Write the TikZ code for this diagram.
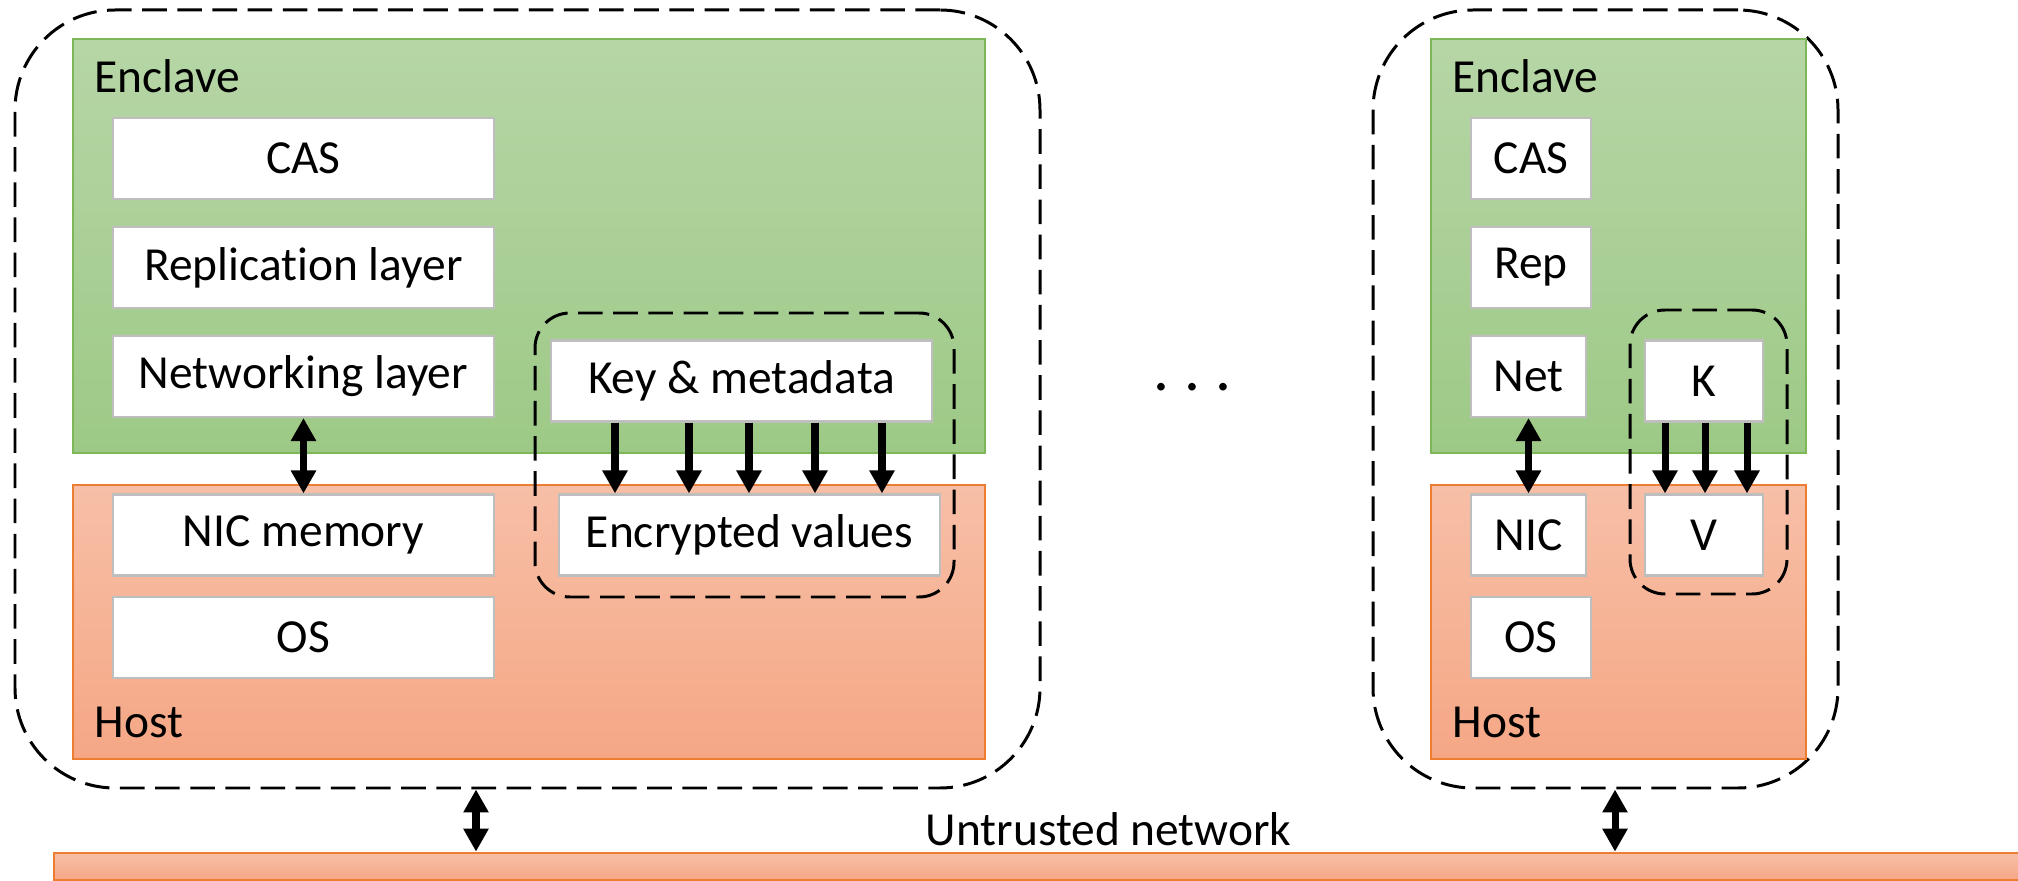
\documentclass[tikz,border=0pt]{standalone}
\usepackage{fontspec}
\setmainfont{Carlito}[Ligatures=NoCommon]
\usetikzlibrary{arrows.meta}

\definecolor{enctop}{RGB}{182,214,166}
\definecolor{encbot}{RGB}{157,201,134}
\definecolor{encline}{RGB}{125,183,88}
\definecolor{hosttop}{RGB}{247,191,167}
\definecolor{hostbot}{RGB}{245,167,133}
\definecolor{hostline}{RGB}{237,125,49}
\definecolor{boxline}{RGB}{190,190,190}

\begin{document}
\begin{tikzpicture}[every node/.style={font=\fontsize{13.5}{16}\selectfont, inner sep=0pt},
	>={Triangle[length=0.23cm, width=0.24cm]},
	block/.style={draw=boxline, fill=white, line width=0.6pt, minimum height=0.81cm},
	enclave/.style={draw=encline, top color=enctop, bottom color=encbot, line width=0.8pt, minimum height=4.14cm},
	host/.style={draw=hostline, top color=hosttop, bottom color=hostbot, line width=0.8pt, minimum height=2.74cm},
	machine/.style={draw, line width=0.85pt, dash pattern=on 7pt off 3pt, rounded corners=1cm, minimum height=7.78cm},
	kvgroup/.style={draw, line width=0.85pt, dash pattern=on 7pt off 3pt, rounded corners=0.35cm, minimum height=2.84cm},
	conn/.style={line width=2pt}]
	\useasboundingbox (0,0) rectangle (20.18,8.80);

	% left machine
	\node[machine, minimum width=10.25cm] (outerL) at (5.275,4.81) {};
	\node[enclave, minimum width=9.12cm] (enclL) at (5.29,6.34) {};
	\node[host, minimum width=9.12cm] (hostL) at (5.29,2.58) {};
	\node[anchor=base west] (enclLbl) at (0.94,7.87) {Enclave};
	\node[anchor=base west] (hostLbl) at (0.94,1.43) {Host};
	\node[kvgroup, minimum width=4.19cm] (grpL) at (7.445,4.25) {};
	\node[block, minimum width=3.81cm] (cas) at (3.035,7.215) {CAS};
	\node[block, minimum width=3.81cm] (rep) at (3.035,6.125) {Replication layer};
	\node[block, minimum width=3.81cm] (net) at (3.035,5.035) {Networking layer};
	\node[block, minimum width=3.81cm] (nic) at (3.035,3.45) {NIC memory};
	\node[block, minimum width=3.81cm] (os) at (3.035,2.425) {OS};
	\node[block, minimum width=3.81cm] (key) at (7.415,4.99) {Key \& metadata};
	\node[block, minimum width=3.81cm] (enc) at (7.495,3.45) {Encrypted values};
	\draw[<->, conn] (net) -- (nic);
	\foreach \x in {6.15,6.89,7.49,8.15,8.82}
		\draw[->, conn] (\x,0 |- key.south) -- (\x,0 |- enc.north);

	\node[font=\fontsize{18}{18}\selectfont, anchor=base] (dots) at (11.925,4.90) {.\hspace{4.3pt}.\hspace{4.3pt}.};

	% right machine
	\node[machine, minimum width=4.65cm] (outerR) at (16.055,4.81) {};
	\node[enclave, minimum width=3.75cm] (enclR) at (16.185,6.34) {};
	\node[host, minimum width=3.75cm] (hostR) at (16.185,2.58) {};
	\node[anchor=base west] (enclRLbl) at (14.52,7.87) {Enclave};
	\node[anchor=base west] (hostRLbl) at (14.52,1.43) {Host};
	\node[kvgroup, minimum width=1.57cm] (grpR) at (17.085,4.28) {};
	\node[block, minimum width=1.20cm] (casR) at (15.31,7.215) {CAS};
	\node[block, minimum width=1.20cm] (repR) at (15.31,6.125) {Rep};
	\node[block, minimum width=1.15cm] (netR) at (15.285,5.035) {Net};
	\node[block, minimum width=1.15cm] (nicR) at (15.285,3.45) {NIC};
	\node[block, minimum width=1.20cm] (osR) at (15.31,2.425) {OS};
	\node[block, minimum width=1.18cm] (kR) at (17.04,4.99) {K};
	\node[block, minimum width=1.18cm] (vR) at (17.04,3.45) {V};
	\draw[<->, conn] (netR) -- (nicR);
	\foreach \x in {16.65,17.05,17.47}
		\draw[->, conn] (\x,0 |- kR.south) -- (\x,0 |- vR.north);

	% untrusted network
	\node[host, minimum width=19.76cm, minimum height=0.27cm] (wan) at (10.42,0.135) {};
	\node[anchor=base west] (wanLbl) at (9.25,0.35) {Untrusted network};
	\draw[<->, conn] (4.76,0 |- outerL.south) -- (4.76,0 |- wan.north);
	\draw[<->, conn] (16.15,0 |- outerR.south) -- (16.15,0 |- wan.north);
\end{tikzpicture}
\end{document}
